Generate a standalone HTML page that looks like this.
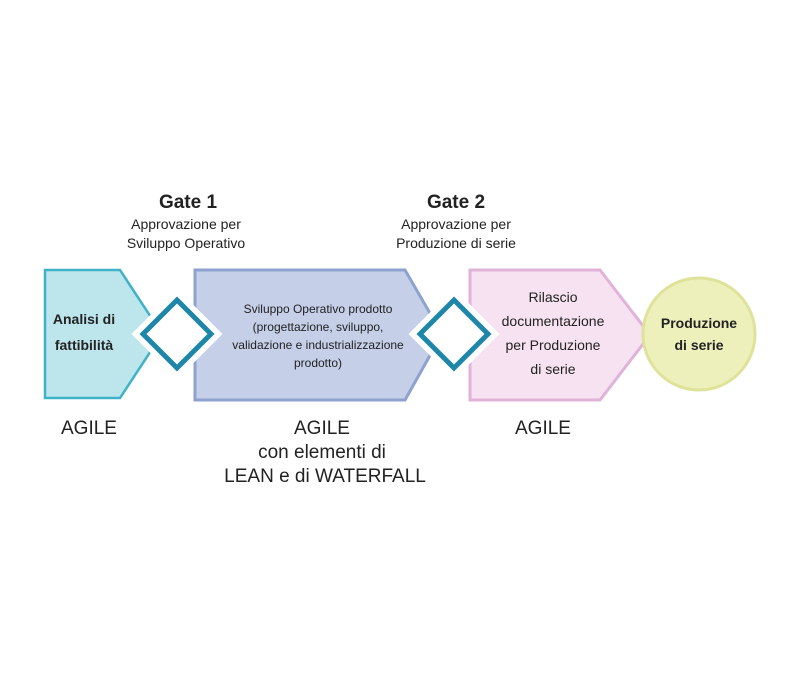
<!DOCTYPE html>
<html><head><meta charset="utf-8"><style>
body{margin:0;background:#fff;}
svg text{font-family:"Liberation Sans",sans-serif;}
</style></head><body>
<svg width="800" height="677" viewBox="0 0 800 677" xmlns="http://www.w3.org/2000/svg">
<rect width="800" height="677" fill="#fff"/>
<polygon points="45,270 120,270 162,334 120,398 45,398" fill="#bde5ec" stroke="#3fb2c8" stroke-width="2.5"/>
<polygon points="195,270 405,270 442,334 405,400 195,400" fill="#c5cfe8" stroke="#8ea2cf" stroke-width="3"/>
<polygon points="470,270 600,270 650,335 600,400 470,400" fill="#f7e2f1" stroke="#e0b3d9" stroke-width="3"/>
<circle cx="699" cy="334" r="56" fill="#eef0bc" stroke="#dfe39a" stroke-width="3"/>
<polygon points="177,297 214,334 177,371 140,334" fill="#fff" stroke="#fff" stroke-width="12"/>
<polygon points="177,300 211,334 177,368 143,334" fill="#fff" stroke="#1e86a9" stroke-width="5"/>
<polygon points="454,297 491,334 454,371 417,334" fill="#fff" stroke="#fff" stroke-width="12"/>
<polygon points="454,300 488,334 454,368 420,334" fill="#fff" stroke="#1e86a9" stroke-width="5"/>
<g fill="#222" text-anchor="middle">
<text x="188" y="208" font-size="19" font-weight="bold">Gate 1</text>
<text x="186" y="229" font-size="14">Approvazione per</text>
<text x="186" y="248" font-size="14">Sviluppo Operativo</text>
<text x="456" y="208" font-size="19" font-weight="bold">Gate 2</text>
<text x="456" y="229" font-size="14">Approvazione per</text>
<text x="456" y="248" font-size="14">Produzione di serie</text>
<text x="84" y="324" font-size="14" font-weight="bold">Analisi di</text>
<text x="84" y="350" font-size="14" font-weight="bold">fattibilità</text>
<text x="318" y="313" font-size="12">Sviluppo Operativo prodotto</text>
<text x="318" y="331" font-size="12">(progettazione, sviluppo,</text>
<text x="318" y="349" font-size="12">validazione e industrializzazione</text>
<text x="318" y="367" font-size="12">prodotto)</text>
<text x="553" y="302" font-size="14">Rilascio</text>
<text x="553" y="326" font-size="14">documentazione</text>
<text x="553" y="350" font-size="14">per Produzione</text>
<text x="553" y="374" font-size="14">di serie</text>
<text x="699" y="328" font-size="14" font-weight="bold">Produzione</text>
<text x="699" y="350" font-size="14" font-weight="bold">di serie</text>
<text x="89" y="434" font-size="19">AGILE</text>
<text x="322" y="434" font-size="19">AGILE</text>
<text x="322" y="458" font-size="19">con elementi di</text>
<text x="325" y="482" font-size="19">LEAN e di WATERFALL</text>
<text x="543" y="434" font-size="19">AGILE</text>
</g>
</svg>
</body></html>
